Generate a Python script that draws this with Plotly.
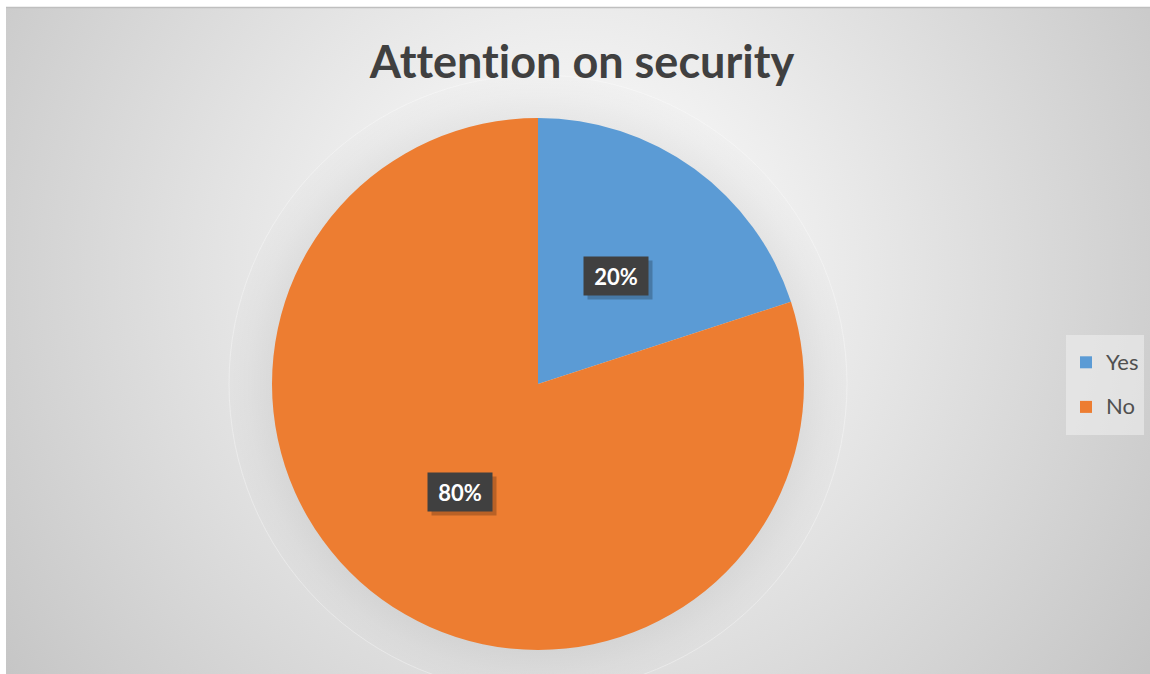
import base64
import math
import plotly.graph_objects as go

categories = ["Yes", "No"]
values = [20, 80]
colors = ["#5B9BD5", "#ED7D31"]
title_text = "Attention on security"

W, H = 1150, 674
# pie domain in paper coords
dom_x = [272 / W, 804 / W]
dom_y = [24 / H, 556 / H]

svg = f'''<svg xmlns="http://www.w3.org/2000/svg" width="{W}" height="{H}" viewBox="0 0 {W} {H}">
<defs>
<radialGradient id="g" cx="570" cy="270" r="760" gradientUnits="userSpaceOnUse">
<stop offset="0" stop-color="#ffffff"/>
<stop offset="0.1" stop-color="#fbfbfb"/>
<stop offset="1" stop-color="#c0c0c0"/>
</radialGradient>
<radialGradient id="sh" cx="538" cy="384" r="312" gradientUnits="userSpaceOnUse">
<stop offset="0.82" stop-color="#000000" stop-opacity="0.07"/>
<stop offset="0.93" stop-color="#000000" stop-opacity="0.02"/>
<stop offset="1" stop-color="#000000" stop-opacity="0"/>
</radialGradient>
</defs>
<rect x="0" y="0" width="{W}" height="{H}" fill="#ffffff"/>
<rect x="6" y="7" width="{W-6}" height="{H-7}" fill="url(#g)"/>
<circle cx="538" cy="384" r="312" fill="url(#sh)"/>
<circle cx="538" cy="384" r="309" fill="none" stroke="#ffffff" stroke-opacity="0.35" stroke-width="1"/>
<line x1="6" y1="7.5" x2="{W}" y2="7.5" stroke="#bfbfbf" stroke-width="1.5"/>
</svg>'''
src = "data:image/svg+xml;base64," + base64.b64encode(svg.encode()).decode()

legend_labels = [f'<span style="font-size:22px;baseline-shift:5px">{c}</span>' for c in categories]

fig = go.Figure()
fig.add_trace(go.Pie(
    labels=legend_labels,
    values=values,
    marker=dict(colors=colors, line=dict(width=0)),
    sort=False,
    direction="clockwise",
    rotation=0,
    textinfo="none",
    domain=dict(x=dom_x, y=dom_y),
    customdata=categories,
    hovertemplate="%{customdata}: %{percent}<extra></extra>",
))

# label annotations at half radius along each slice's mid-angle
cx = (dom_x[0] + dom_x[1]) / 2
cy = (dom_y[0] + dom_y[1]) / 2
rx = (dom_x[1] - dom_x[0]) / 2
ry = (dom_y[1] - dom_y[0]) / 2
total = sum(values)
cum = 0
annotations = []
for v in values:
    mid = (cum + v / 2) / total * 2 * math.pi
    cum += v
    ax = cx + 0.5 * rx * math.sin(mid)
    ay = cy + 0.5 * ry * math.cos(mid)
    pct = f"{round(v / total * 100)}%"
    # shadow box
    annotations.append(dict(
        x=ax, y=ay, xref="paper", yref="paper", showarrow=False,
        xanchor="center", yanchor="middle",
        text=" ", width=62, height=36, borderpad=1,
        font=dict(family="Lato", size=22, color="rgba(0,0,0,0)"),
        bgcolor="rgba(0,0,0,0.22)", xshift=4, yshift=-4,
    ))
    annotations.append(dict(
        x=ax, y=ay, xref="paper", yref="paper", showarrow=False,
        xanchor="center", yanchor="middle",
        text=f"<b>{pct}</b>", width=62, height=36, borderpad=1,
        font=dict(family="Lato", size=22, color="#ffffff"),
        bgcolor="#404040",
    ))

fig.update_layout(
    width=W, height=H,
    margin=dict(l=0, r=0, t=0, b=0),
    paper_bgcolor="#ffffff",
    plot_bgcolor="rgba(0,0,0,0)",
    images=[dict(source=src, xref="paper", yref="paper", x=0, y=1,
                 sizex=1, sizey=1, sizing="stretch", layer="below",
                 xanchor="left", yanchor="top")],
    title=dict(text="<b>" + title_text + "</b>", x=582 / W, xanchor="center",
               y=1 - 62 / H, yanchor="middle",
               font=dict(family="Lato", size=45, color="#404040")),
    legend=dict(x=1066 / W, xanchor="left", y=1 - 385 / H, yanchor="middle",
                bgcolor="rgba(240,240,240,0.55)",
                font=dict(family="Lato", size=32, color="#505050"),
                itemwidth=30),
    annotations=annotations,
)

post = (
    "document.body.style.margin='0px';"
    "var s=document.createElement('style');"
    "s.textContent='.main-svg text{font-variant-ligatures:none !important;font-feature-settings:\"liga\" 0 !important;}';"
    "document.head.appendChild(s);"
)
fig.write_html("out.html", post_script=post, config={"displayModeBar": False})
